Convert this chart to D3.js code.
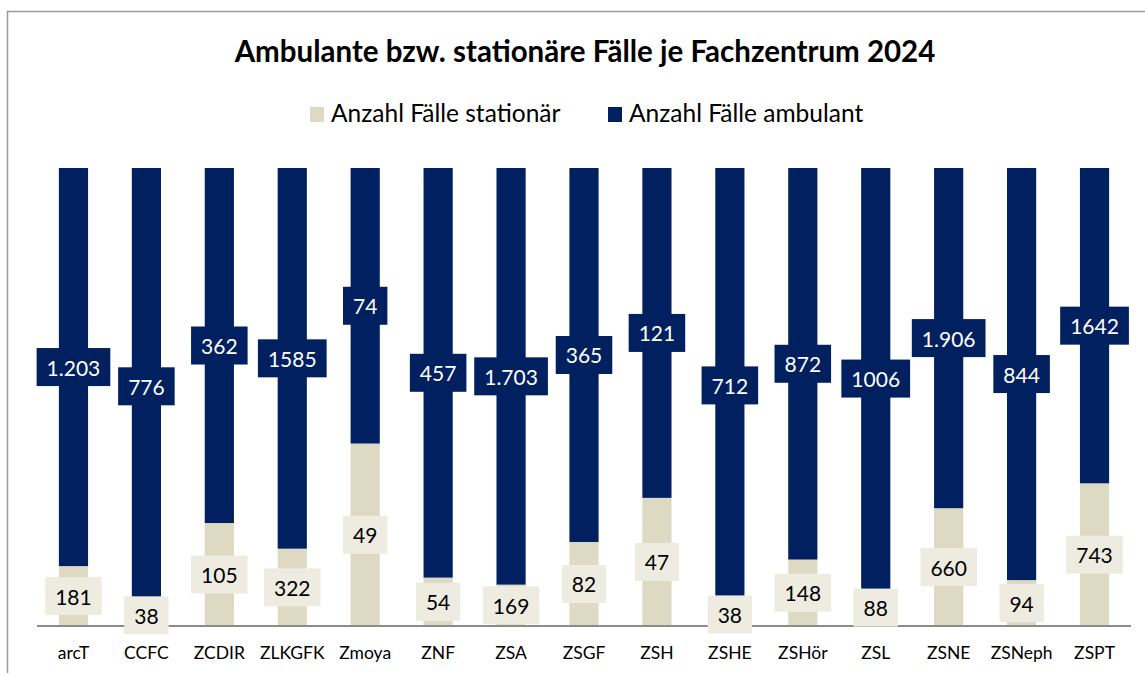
<!DOCTYPE html>
<html>
<head>
<meta charset="utf-8">
<script src="https://cdn.jsdelivr.net/npm/d3@7"></script>
<style>
  body { margin: 0; background: #fff; }
  svg { display: block; font-family: Lato, "Open Sans", sans-serif; }
</style>
</head>
<body>
<div class="chart"></div>
<script>
// data
const categories = ['arcT', 'CCFC', 'ZCDIR', 'ZLKGFK', 'Zmoya', 'ZNF', 'ZSA', 'ZSGF', 'ZSH', 'ZSHE', 'ZSHör', 'ZSL', 'ZSNE', 'ZSNeph', 'ZSPT'];
const stationaer = [181, 38, 105, 322, 49, 54, 169, 82, 47, 38, 148, 88, 660, 94, 743];
const ambulant = [1203, 776, 362, 1585, 74, 457, 1703, 365, 121, 712, 872, 1006, 1906, 844, 1642];
// labels as written in the source (some with thousands dot, some without)
const ambulantLabels = ['1.203', '776', '362', '1585', '74', '457', '1.703', '365', '121', '712', '872', '1006', '1.906', '844', '1642'];
const seriesNames = ['Anzahl Fälle stationär', 'Anzahl Fälle ambulant'];

const W = 1145, H = 675;
const navy = '#002060', beige = '#DDD9C3', labelBg = '#EEECE1';

const svg = d3.select('.chart').append('svg')
  .attr('width', W)
  .attr('height', H);

// chart frame
svg.append('path')
  .attr('d', 'M7.5,673 V11.5 H1145')
  .attr('fill', 'none')
  .attr('stroke', '#9a9a9a')
  .attr('stroke-width', 1.5);

// title
svg.append('text')
  .text('Ambulante bzw. stationäre Fälle je Fachzentrum 2024')
  .attr('x', 585)
  .attr('y', 62)
  .attr('text-anchor', 'middle')
  .attr('font-weight', 'bold')
  .attr('font-size', 29.5)
  .attr('fill', '#000');

// legend
const legend = svg.append('g');
const legendX = [310, 608];
const legendColors = [beige, navy];
seriesNames.forEach((name, i) => {
  legend.append('rect')
    .attr('x', legendX[i])
    .attr('y', 107)
    .attr('width', 14)
    .attr('height', 15)
    .attr('fill', legendColors[i]);
  legend.append('text')
    .text(name)
    .attr('x', legendX[i] + 21)
    .attr('y', 122)
    .attr('font-size', 24.5)
    .attr('fill', '#000');
});

// scales
const x = d3.scaleBand()
  .domain(categories)
  .range([37, 1131])
  .paddingInner(0.6)
  .paddingOuter(0.3);

const y = d3.scaleLinear()
  .domain([0, 1])
  .range([626, 168]);

const rows = categories.map((c, i) => {
  const total = stationaer[i] + ambulant[i];
  return {
    cat: c,
    s: stationaer[i] / total,
    sLabel: String(stationaer[i]),
    aLabel: ambulantLabels[i]
  };
});

// bars
const bars = svg.append('g');
bars.selectAll('rect.stat')
  .data(rows)
  .join('rect')
  .attr('class', 'stat')
  .attr('x', d => x(d.cat))
  .attr('width', x.bandwidth())
  .attr('y', d => y(d.s))
  .attr('height', d => y(0) - y(d.s))
  .attr('fill', beige);

bars.selectAll('rect.amb')
  .data(rows)
  .join('rect')
  .attr('class', 'amb')
  .attr('x', d => x(d.cat))
  .attr('width', x.bandwidth())
  .attr('y', y(1))
  .attr('height', d => y(d.s) - y(1))
  .attr('fill', navy);

// axis
const xAxis = svg.append('g')
  .attr('transform', `translate(0,${y(0)})`)
  .call(d3.axisBottom(x).tickSize(0).tickPadding(21));
xAxis.select('.domain')
  .attr('stroke', '#8c8c8c')
  .attr('stroke-width', 2)
  .attr('d', 'M37,0 H1131');
xAxis.selectAll('text')
  .attr('font-size', 17.5)
  .attr('font-family', 'Lato, "Open Sans", sans-serif')
  .attr('fill', '#000');

// data labels with boxes
function addLabel(g, txt, cx, cy, bg, fg) {
  const t = g.append('text')
    .text(txt)
    .attr('x', cx)
    .attr('y', cy)
    .attr('text-anchor', 'middle')
    .attr('dominant-baseline', 'central')
    .attr('font-size', 21)
    .attr('fill', fg);
  const w = t.node().getComputedTextLength() + 20;
  g.insert('rect', 'text')
    .attr('x', cx - w / 2)
    .attr('y', cy - 19)
    .attr('width', w)
    .attr('height', 38)
    .attr('fill', bg);
}

rows.forEach(d => {
  const cx = x(d.cat) + x.bandwidth() / 2;
  const gS = svg.append('g');
  addLabel(gS, d.sLabel, cx, (y(0) + y(d.s)) / 2, labelBg, '#000');
  const gA = svg.append('g');
  addLabel(gA, d.aLabel, cx, (y(d.s) + y(1)) / 2, navy, '#fff');
});
</script>
</body>
</html>
